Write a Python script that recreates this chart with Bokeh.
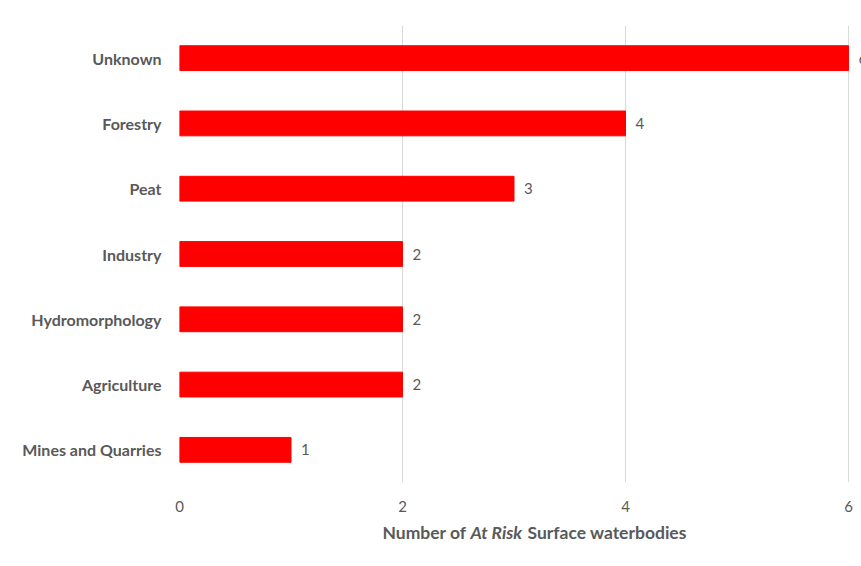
from bokeh.plotting import figure
from bokeh.models import FactorRange, Range1d, FixedTicker, ColumnDataSource
from bokeh.layouts import column
from bokeh.core.properties import value
from bokeh.embed import file_html
from bokeh.resources import INLINE

categories = ["Mines and Quarries", "Agriculture", "Hydromorphology", "Industry",
              "Peat", "Forestry", "Unknown"]
values = [1, 2, 2, 2, 3, 4, 6]
x_ticks = [0, 2, 4, 6]
title_parts = ["Number of ", "At Risk", " Surface waterbodies"]

FONT = "Lato"
GREY = "#595959"
PX_PER_UNIT = 111.5
X_END = (861 - 179) / PX_PER_UNIT

src = ColumnDataSource(dict(cat=categories, val=values, lbl=[str(v) for v in values]))

p = figure(width=861, height=515,
           y_range=FactorRange(factors=categories, range_padding=0),
           x_range=Range1d(0, X_END),
           output_backend="svg", toolbar_location=None,
           min_border_left=179, min_border_right=0,
           min_border_top=25, min_border_bottom=33)
p.outline_line_color = None
p.background_fill_color = "white"
p.border_fill_color = "white"

p.hbar(y="cat", left=0, right="val", height=0.38, color="#ff0000", source=src)
p.text(x="val", y="cat", text="lbl", x_offset=10, text_baseline="middle",
       text_align="left", text_font=value(FONT), text_font_size="15px",
       text_color=GREY, source=src)

p.ygrid.visible = False
p.xgrid.ticker = FixedTicker(ticks=x_ticks)
p.xgrid.grid_line_color = "#d9d9d9"
p.xgrid.grid_line_width = 1

xa = p.xaxis[0]
xa.ticker = FixedTicker(ticks=x_ticks)
xa.axis_line_color = None
xa.major_tick_line_color = None
xa.minor_tick_line_color = None
xa.major_label_text_font = FONT
xa.major_label_text_font_size = "15px"
xa.major_label_text_color = GREY
xa.major_label_standoff = 12

ya = p.yaxis[0]
ya.axis_line_color = None
ya.major_tick_line_color = None
ya.minor_tick_line_color = None
ya.major_label_text_font = FONT
ya.major_label_text_font_size = "16px"
ya.major_label_text_font_style = "bold"
ya.major_label_text_color = GREY
ya.major_label_standoff = 12

# axis title (with italic middle part) in a strip below the chart
p2 = figure(width=861, height=51, x_range=p.x_range, y_range=Range1d(0, 51),
            output_backend="svg", toolbar_location=None,
            min_border_left=179, min_border_right=0,
            min_border_top=0, min_border_bottom=0)
p2.axis.visible = False
p2.grid.visible = False
p2.outline_line_color = None
title_x = [(382 - 179) / PX_PER_UNIT, (470 - 179) / PX_PER_UNIT, (527 - 179) / PX_PER_UNIT]
styles = ["bold", "bold italic", "bold"]
for t, xx, st in zip(title_parts, title_x, styles):
    p2.text(x=[xx], y=[34], text=[t.strip()], text_font=value(FONT), text_font_size="17.5px",
            text_font_style=st, text_color=GREY, text_baseline="middle",
            text_align="left")

layout = column(p, p2, spacing=0)
open("out.html", "w").write(file_html(layout, INLINE))
